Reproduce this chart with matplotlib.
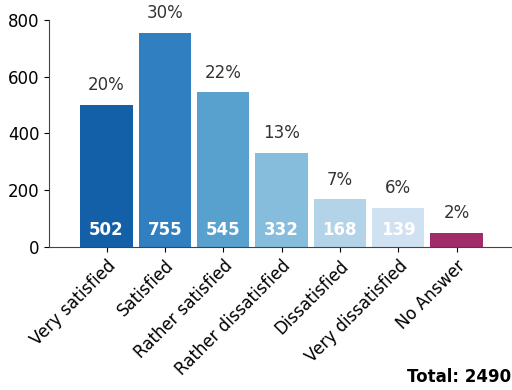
import matplotlib
matplotlib.use('Agg')
import matplotlib.pyplot as plt
import numpy as np

categories = ['Very satisfied', 'Satisfied', 'Rather satisfied', 'Rather dissatisfied',
              'Dissatisfied', 'Very dissatisfied', 'No Answer']
counts = [502, 755, 545, 332, 168, 139, 49]
percents = ['20%', '30%', '22%', '13%', '7%', '6%', '2%']
colors = ['#1460a8', '#2f7fc1', '#58a1cf', '#86bcdc', '#b2d3e8', '#d0e1f2', '#a02c6a']
total = 2490

fig = plt.figure(figsize=(5.12, 3.9), dpi=100)
ax = fig.add_axes([0.0957, 0.3667, 0.9043, 0.582])

x = np.arange(len(categories))
ax.bar(x, counts, width=0.9, color=colors)

for i, (c, p) in enumerate(zip(counts, percents)):
    ax.text(i, c + 38, p, ha='center', va='bottom', fontsize=12, color='#333333')
    if c > 100:
        ax.text(i, 42, str(c), ha='center', va='baseline', fontsize=12,
                color='white', fontweight='bold')

ax.set_xlim(-0.986, 6.95)
ax.set_ylim(0, 800)
ax.set_yticks([0, 200, 400, 600, 800])
ax.set_xticks(x)
ax.set_xticklabels(categories, rotation=45, ha='right', rotation_mode='anchor')
ax.tick_params(labelsize=12)
for s in ['top', 'right']:
    ax.spines[s].set_visible(False)
for s in ['left', 'bottom']:
    ax.spines[s].set_color('#444444')

fig.text(0.998, 0.01, 'Total: ' + str(total), ha='right', va='bottom',
         fontsize=12, fontweight='bold')

plt.savefig('out.png', dpi=100)
